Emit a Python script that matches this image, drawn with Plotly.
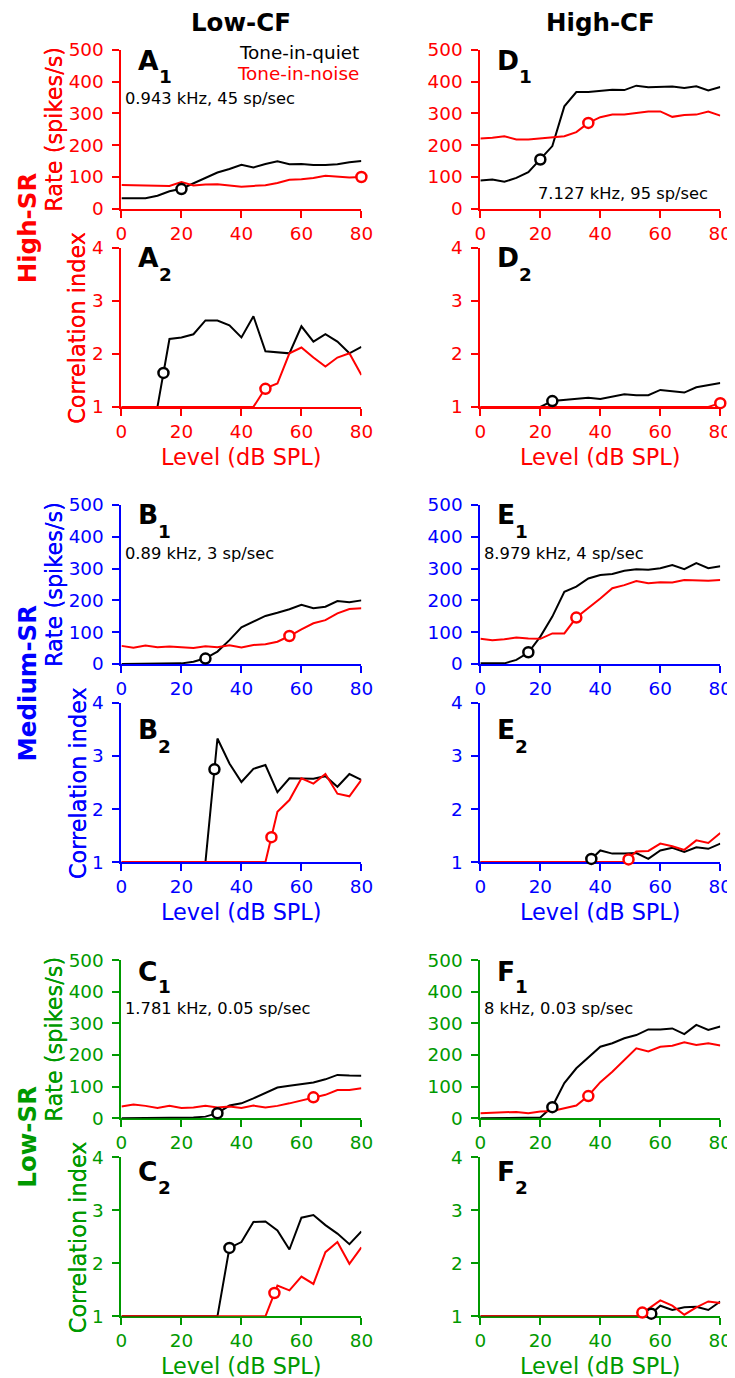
import plotly.graph_objects as go

W, H = 735, 1378
FONT = "DejaVu Sans"

# ---------------- data ----------------
levels = [0, 4, 8, 12, 16, 20, 24, 28, 32, 36, 40, 44, 48, 52, 56, 60, 64, 68, 72, 76, 80]
x_ticks = [0, 20, 40, 60, 80]
rate_ticks = [0, 100, 200, 300, 400, 500]
corr_ticks = [1, 2, 3, 4]

# High-SR, low CF
A1_quiet = [33, 33, 33, 41, 55, 63, 80, 96, 114, 125, 138, 130, 141, 149, 140, 141, 138, 138, 140, 146, 150]
A1_noise = [75, 74, 74, 73, 72, 84, 73, 76, 77, 73, 69, 72, 74, 81, 91, 93, 97, 104, 100, 98, 100]
A1_thr_quiet = [20, 62]
A1_thr_noise = [80, 100]
A2_quiet = [1, 1, 1, 1, 2.28, 2.31, 2.37, 2.63, 2.63, 2.54, 2.31, 2.71, 2.05, 2.03, 2.01, 2.52, 2.23, 2.37, 2.23, 2.01, 2.13]
A2_noise = [1, 1, 1, 1, 1, 1, 1, 1, 1, 1, 1, 1, 1.35, 1.44, 2.01, 2.12, 1.93, 1.76, 1.93, 2.01, 1.6]
A2_thr_quiet = [14, 1.64]
A2_thr_noise = [48, 1.34]

# High-SR, high CF
D1_quiet = [89, 92, 85, 97, 115, 155, 197, 322, 367, 367, 371, 374, 373, 387, 382, 382, 384, 380, 385, 372, 383]
D1_noise = [221, 223, 228, 218, 218, 221, 223, 228, 241, 270, 288, 296, 296, 300, 306, 306, 289, 295, 296, 306, 293]
D1_thr_quiet = [20, 155]
D1_thr_noise = [36, 270]
D2_quiet = [1, 1, 1, 1, 1, 1, 1.11, 1.13, 1.15, 1.17, 1.15, 1.2, 1.24, 1.22, 1.22, 1.32, 1.29, 1.27, 1.37, 1.41, 1.45]
D2_noise = [1, 1, 1, 1, 1, 1, 1, 1, 1, 1, 1, 1, 1, 1, 1, 1, 1, 1, 1, 1, 1.07]
D2_thr_quiet = [24, 1.11]
D2_thr_noise = [80, 1.07]

# Medium-SR, low CF
B1_quiet = [0, 0, 0, 2, 1, 2, 7, 18, 39, 75, 115, 133, 151, 161, 172, 186, 175, 180, 198, 194, 200]
B1_noise = [57, 51, 58, 53, 55, 53, 50, 56, 53, 59, 52, 60, 62, 70, 88, 109, 128, 138, 159, 173, 175]
B1_thr_quiet = [28, 17]
B1_thr_noise = [56, 88]
B2_quiet = [1, 1, 1, 1, 1, 1, 1, 1, 3.33, 2.86, 2.51, 2.76, 2.83, 2.32, 2.58, 2.57, 2.57, 2.62, 2.42, 2.66, 2.55]
B2_noise = [1, 1, 1, 1, 1, 1, 1, 1, 1, 1, 1, 1, 1, 1.95, 2.17, 2.58, 2.48, 2.66, 2.29, 2.24, 2.55]
B2_thr_quiet = [31, 2.75]
B2_thr_noise = [50, 1.47]

# Medium-SR, high CF
E1_quiet = [2, 2, 2, 13, 36, 86, 149, 227, 243, 269, 280, 283, 293, 298, 296, 301, 311, 298, 317, 301, 307]
E1_noise = [79, 75, 78, 83, 80, 79, 96, 96, 146, 175, 206, 238, 248, 261, 254, 257, 256, 264, 262, 262, 264]
E1_thr_quiet = [16, 37]
E1_thr_noise = [32, 146]
E2_quiet = [1, 1, 1, 1, 1, 1, 1, 1, 1, 1, 1.22, 1.16, 1.16, 1.17, 1.06, 1.22, 1.27, 1.19, 1.28, 1.25, 1.35]
E2_noise = [1, 1, 1, 1, 1, 1, 1, 1, 1, 1, 1, 1, 1, 1.2, 1.21, 1.35, 1.3, 1.23, 1.41, 1.36, 1.55]
E2_thr_quiet = [37, 1.06]
E2_thr_noise = [49.4, 1.05]

# Low-SR, low CF
C1_quiet = [0, 0, 0, 0, 0, 0, 2, 5, 16, 40, 47, 63, 81, 97, 103, 108, 113, 123, 137, 135, 134]
C1_noise = [37, 43, 39, 32, 39, 32, 34, 39, 34, 37, 32, 40, 34, 39, 47, 56, 66, 74, 89, 89, 95]
C1_thr_quiet = [32, 16]
C1_thr_noise = [64, 66]
C2_quiet = [1, 1, 1, 1, 1, 1, 1, 1, 1, 2.29, 2.4, 2.78, 2.79, 2.62, 2.26, 2.86, 2.91, 2.72, 2.56, 2.36, 2.6]
C2_noise = [1, 1, 1, 1, 1, 1, 1, 1, 1, 1, 1, 1, 1, 1.58, 1.49, 1.75, 1.61, 2.21, 2.4, 1.99, 2.3]
C2_thr_quiet = [36, 2.29]
C2_thr_noise = [51, 1.44]

# Low-SR, high CF
F1_quiet = [0, 0, 0, 0, 0, 2, 37, 111, 158, 193, 226, 237, 253, 263, 281, 281, 284, 266, 295, 279, 290]
F1_noise = [16, 18, 18, 20, 16, 21, 23, 32, 40, 71, 114, 147, 184, 221, 211, 226, 229, 240, 232, 237, 230]
F1_thr_quiet = [24, 35]
F1_thr_noise = [36, 70]
F2_quiet = [1, 1, 1, 1, 1, 1, 1, 1, 1, 1, 1, 1, 1, 1, 1, 1.2, 1.12, 1.17, 1.18, 1.12, 1.28]
F2_noise = [1, 1, 1, 1, 1, 1, 1, 1, 1, 1, 1, 1, 1, 1, 1.14, 1.3, 1.2, 1.03, 1.17, 1.28, 1.25]
F2_thr_quiet = [57, 1.05]
F2_thr_noise = [54, 1.07]

unit_info = {
    "A1": "0.943 kHz, 45 sp/sec",
    "D1": "7.127 kHz, 95 sp/sec",
    "B1": "0.89 kHz, 3 sp/sec",
    "E1": "8.979 kHz, 4 sp/sec",
    "C1": "1.781 kHz, 0.05 sp/sec",
    "F1": "8 kHz, 0.03 sp/sec",
}

# ---------------- layout helpers ----------------
RED, BLUE, GREEN = "#ff0000", "#0000ff", "#009900"
COLS = {"L": (121, 361), "R": (480, 720)}
ROWS = {1: (50, 209), 2: (248, 407), 3: (505, 664), 4: (703, 862), 5: (960, 1118), 6: (1157, 1316)}

# the captured page shows the figure slightly offset/scaled; compensate
AX, SX = 13.5, 0.9758
AY, SY = 19.3, 0.9843
FS = 2.0 / (SX + SY)


def fx(p):
    return ((p - AX) / SX) / W


def fy(p):
    return 1 - ((p - AY) / SY) / H


def fsz(s):
    return round(s * FS, 1)


panels = [
    ("A", "1", "L", 1, "rate", RED, A1_quiet, A1_noise, A1_thr_quiet, A1_thr_noise),
    ("A", "2", "L", 2, "corr", RED, A2_quiet, A2_noise, A2_thr_quiet, A2_thr_noise),
    ("D", "1", "R", 1, "rate", RED, D1_quiet, D1_noise, D1_thr_quiet, D1_thr_noise),
    ("D", "2", "R", 2, "corr", RED, D2_quiet, D2_noise, D2_thr_quiet, D2_thr_noise),
    ("B", "1", "L", 3, "rate", BLUE, B1_quiet, B1_noise, B1_thr_quiet, B1_thr_noise),
    ("B", "2", "L", 4, "corr", BLUE, B2_quiet, B2_noise, B2_thr_quiet, B2_thr_noise),
    ("E", "1", "R", 3, "rate", BLUE, E1_quiet, E1_noise, E1_thr_quiet, E1_thr_noise),
    ("E", "2", "R", 4, "corr", BLUE, E2_quiet, E2_noise, E2_thr_quiet, E2_thr_noise),
    ("C", "1", "L", 5, "rate", GREEN, C1_quiet, C1_noise, C1_thr_quiet, C1_thr_noise),
    ("C", "2", "L", 6, "corr", GREEN, C2_quiet, C2_noise, C2_thr_quiet, C2_thr_noise),
    ("F", "1", "R", 5, "rate", GREEN, F1_quiet, F1_noise, F1_thr_quiet, F1_thr_noise),
    ("F", "2", "R", 6, "corr", GREEN, F2_quiet, F2_noise, F2_thr_quiet, F2_thr_noise),
]

LABEL_BASE = {1: 20, 2: 19, 3: 19, 4: 35, 5: 20, 6: 23}
SUB_BASE = {1: 33, 2: 33, 3: 33, 4: 50, 5: 33, 6: 36}
LETTER_W = {"A": 21, "B": 20, "C": 20, "D": 22, "E": 18, "F": 18}

fig = go.Figure()
layout = dict(
    width=W, height=H, margin=dict(l=0, r=0, t=0, b=0), autosize=False,
    paper_bgcolor="white", plot_bgcolor="white", showlegend=False,
    font=dict(family=FONT, size=fsz(18), color="black"),
)
annotations = []


def ann(text, x, y, size, color="black", bold=False, xanchor="center", angle=0):
    annotations.append(dict(
        text=text, x=fx(x), y=fy(y), xref="paper", yref="paper",
        xanchor=xanchor, yanchor="middle", showarrow=False, textangle=angle,
        font=dict(family=FONT, size=fsz(size), color=color, weight="bold" if bold else "normal"),
    ))


for i, (let, sub, col, row, kind, color, quiet, noise, thr_q, thr_n) in enumerate(panels, start=1):
    xa = "x" if i == 1 else f"x{i}"
    ya = "y" if i == 1 else f"y{i}"
    x0, x1 = COLS[col]
    top, bot = ROWS[row]
    axis_common = dict(
        showline=True, linecolor=color, linewidth=2, ticks="outside", ticklen=7, tickwidth=2,
        tickcolor=color, tickfont=dict(family=FONT, size=fsz(18), color=color), showgrid=False,
        zeroline=False, layer="below traces", fixedrange=True,
    )
    layout["xaxis" if i == 1 else f"xaxis{i}"] = dict(
        domain=[fx(x0), fx(x1)], range=[0, 80], tickvals=x_ticks, anchor=ya, **axis_common)
    if kind == "rate":
        yr, yt = [0, 500], rate_ticks
    else:
        yr, yt = [1, 4], corr_ticks
    layout["yaxis" if i == 1 else f"yaxis{i}"] = dict(
        domain=[fy(bot), fy(top)], range=yr, tickvals=yt, anchor=xa,
        ticklabelstandoff=5, **axis_common)

    fig.add_trace(go.Scatter(x=levels, y=quiet, mode="lines", xaxis=xa, yaxis=ya,
                             line=dict(color="black", width=2), hoverinfo="skip"))
    fig.add_trace(go.Scatter(x=levels, y=noise, mode="lines", xaxis=xa, yaxis=ya,
                             line=dict(color=RED, width=2), hoverinfo="skip"))
    fig.add_trace(go.Scatter(x=[thr_q[0]], y=[thr_q[1]], mode="markers", xaxis=xa, yaxis=ya,
                             cliponaxis=False,
                             marker=dict(symbol="circle", size=10, color="white",
                                         line=dict(color="black", width=2.5))))
    fig.add_trace(go.Scatter(x=[thr_n[0]], y=[thr_n[1]], mode="markers", xaxis=xa, yaxis=ya,
                             cliponaxis=False,
                             marker=dict(symbol="circle", size=10, color="white",
                                         line=dict(color=RED, width=2.5))))

    lx = x0 + 15
    ann(let, lx, top + LABEL_BASE[row] - 0.346 * 26, 26, bold=True, xanchor="left")
    ann(sub, lx + LETTER_W[let], top + SUB_BASE[row] - 0.346 * 18, 18, bold=True, xanchor="left")

    if kind == "rate":
        ann("Rate (spikes/s)", 54, (top + bot) / 2, 22, color=color, angle=-90)
    else:
        ann("Correlation index", 77, (top + bot) / 2, 22, color=color, angle=-90)
        ann("Level (dB SPL)", (x0 + x1) / 2, bot + 50, 22, color=color)

    key = let + sub
    if key in unit_info:
        if key == "D1":
            ann(unit_info[key], 623, top + 149 - 5.5, 16, xanchor="center")
        else:
            ann(unit_info[key], x0 + 2, top + 54 - 5.5, 16, xanchor="left")

ann("Low-CF", 241, 23, 24, bold=True)
ann("High-CF", 600, 23, 24, bold=True)
ann("High-SR", 27, 228, 24, color=RED, bold=True, angle=-90)
ann("Medium-SR", 27, 683, 24, color=BLUE, bold=True, angle=-90)
ann("Low-SR", 27, 1136, 24, color=GREEN, bold=True, angle=-90)

ann("Tone-in-quiet", 361, 52.5, 18, color="black", xanchor="right")
ann("Tone-in-noise", 361, 74, 18, color=RED, xanchor="right")

layout["annotations"] = annotations
fig.update_layout(**layout)
fig.write_html("out.html")
